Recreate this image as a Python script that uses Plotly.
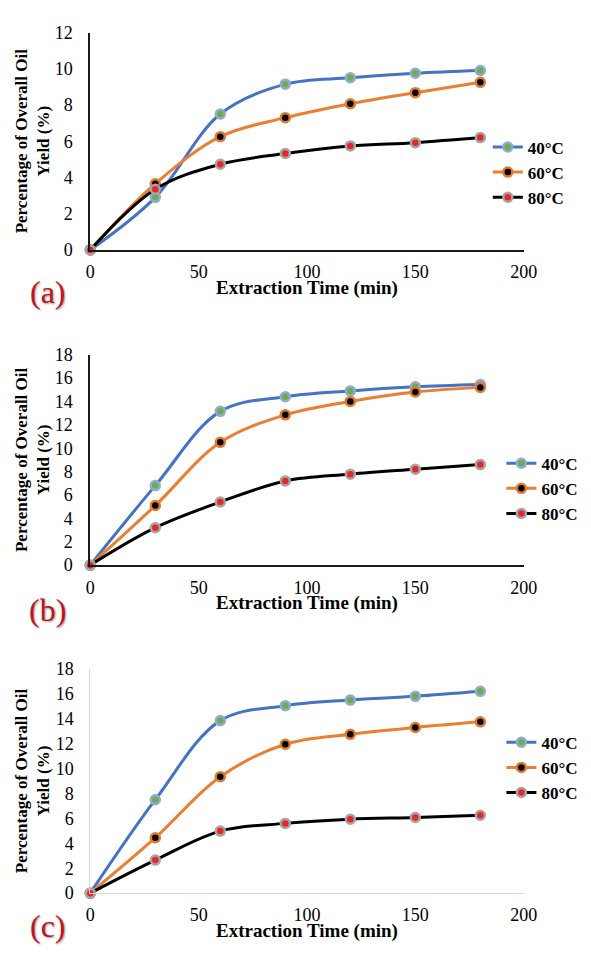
import plotly.graph_objects as go

# ---------------- data ----------------
time_min = [0, 30, 60, 90, 120, 150, 180]
series_names = ["40°C", "60°C", "80°C"]

a_40 = [0, 2.9, 7.5, 9.15, 9.5, 9.75, 9.9]
a_60 = [0, 3.65, 6.25, 7.3, 8.07, 8.68, 9.25]
a_80 = [0, 3.35, 4.73, 5.32, 5.74, 5.92, 6.2]

b_40 = [0, 6.8, 13.15, 14.4, 14.9, 15.25, 15.45]
b_60 = [0, 5.1, 10.5, 12.85, 14.0, 14.8, 15.2]
b_80 = [0, 3.2, 5.4, 7.2, 7.78, 8.2, 8.6]

c_40 = [0, 7.5, 13.85, 15.05, 15.5, 15.8, 16.2]
c_60 = [0, 4.45, 9.35, 11.95, 12.75, 13.3, 13.75]
c_80 = [0, 2.65, 4.98, 5.6, 5.93, 6.07, 6.25]

panel_labels = ["(a)", "(b)", "(c)"]
x_title = "Extraction Time (min)"
y_title = "Percentage of Overall Oil<br>Yield (%)"
x_ticks = [0, 50, 100, 150, 200]

# ---------------- styling ----------------
W, H = 591, 956
FONT = "Liberation Serif"
line_colors = ["#4472C4", "#ED7D31", "#000000"]
marker_fill = ["#70AD47", "#000000", "#E8262A"]
marker_ring = ["#8FAADC", "#E07B2E", "#A5A5A5"]

def px_x(p):
    return p / W

def px_y(p):
    return 1 - p / H

panels = [
    dict(data=[a_40, a_60, a_80], ymax=12, top=23, bottom=245, axcol="#1a1a1a", axw=2,
         leg_x=499, leg_top=122, lab_y=288),
    dict(data=[b_40, b_60, b_80], ymax=18, top=352, bottom=567, axcol="#1a1a1a", axw=2,
         leg_x=513, leg_top=445, lab_y=613),
    dict(data=[c_40, c_60, c_80], ymax=18, top=673, bottom=902, axcol="#D9D9D9", axw=1,
         leg_x=513, leg_top=730, lab_y=936),
]

fig = go.Figure()
layout = dict(
    width=W, height=H, margin=dict(l=0, r=0, t=0, b=0),
    paper_bgcolor="white", plot_bgcolor="white",
    font=dict(family=FONT, color="black", size=17),
    showlegend=True,
)
annotations = []

for i, p in enumerate(panels):
    n = "" if i == 0 else str(i + 1)
    xa, ya = "x" + n, "y" + n
    leg = "legend" + n
    for k in range(3):
        fig.add_trace(go.Scatter(
            x=time_min, y=p["data"][k], name=series_names[k],
            mode="lines+markers", xaxis=xa, yaxis=ya, legend=leg,
            line=dict(color=line_colors[k], width=3, shape="spline", smoothing=1),
            marker=dict(size=9, color=marker_fill[k],
                        line=dict(color=marker_ring[k], width=2.5)),
            cliponaxis=False,
        ))
    layout["xaxis" + n] = dict(
        domain=[px_x(89), px_x(536)], anchor=ya, range=[0, 200],
        tickvals=x_ticks, showgrid=False, zeroline=False,
        showline=True, linecolor=p["axcol"], linewidth=p["axw"],
        ticks="", ticklabelstandoff=5,
        tickfont=dict(family=FONT, size=18, color="black"),
        fixedrange=True,
    )
    layout["yaxis" + n] = dict(
        domain=[px_y(p["bottom"]), px_y(p["top"])], anchor=xa,
        range=[0, p["ymax"]], dtick=2, showgrid=False, zeroline=False,
        showline=True, linecolor=p["axcol"], linewidth=p["axw"],
        ticks="", ticklabelstandoff=12,
        tickfont=dict(family=FONT, size=18, color="black"),
        title=dict(text=y_title, standoff=1,
                   font=dict(family=FONT, size=17, color="black", weight="bold")),
        fixedrange=True,
    )
    layout[leg] = dict(
        x=px_x(p["leg_x"]), y=px_y(p["leg_top"]), xanchor="left", yanchor="top",
        bgcolor="rgba(0,0,0,0)", borderwidth=0,
        font=dict(family=FONT, size=17, color="black", weight="bold"),
        itemwidth=30, tracegroupgap=0,
    )
    # x-axis title
    annotations.append(dict(
        text=x_title, xref="paper", yref="paper",
        x=px_x((89 + 536) / 2), y=px_y(p["bottom"] + 39),
        xanchor="center", yanchor="middle", showarrow=False,
        font=dict(family=FONT, size=19, color="black", weight="bold"),
    ))
    # panel label
    annotations.append(dict(
        text=panel_labels[i], xref="paper", yref="paper",
        x=px_x(45), y=px_y(p["lab_y"]), xanchor="center", yanchor="middle",
        showarrow=False,
        font=dict(family=FONT, size=32, color="#C0151C", shadow="1px 1px 2px #9a9a9a"),
    ))

layout["annotations"] = annotations
fig.update_layout(**layout)
fig.write_html("out.html", config={"displayModeBar": False},
               post_script="document.body.style.margin='0px';")
